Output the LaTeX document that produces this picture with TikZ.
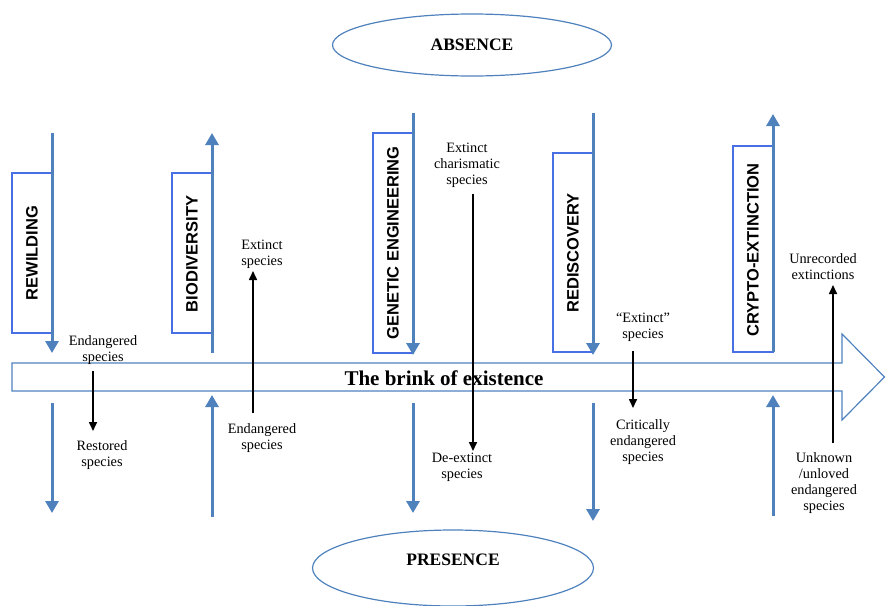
\documentclass[tikz,border=0pt]{standalone}
\usepackage{fontspec}
\setmainfont{Liberation Serif}
\newfontfamily\boxfont{Liberation Sans}
\usetikzlibrary{arrows.meta,shapes.geometric}
\definecolor{arrblue}{RGB}{79,129,189}
\definecolor{boxblue}{RGB}{72,112,228}
\begin{document}
\begin{tikzpicture}[x=1pt,y=-1pt,
 bluearr/.style={draw=arrblue,line width=3pt,-{Triangle[width=13pt,length=12pt]}},
 blackarr/.style={draw=black,line width=1.6pt,-{Triangle[width=8pt,length=9pt]}},
 tagbox/.style={draw=boxblue,line width=1.2pt},
 taglabel/.style={rotate=90,inner sep=0pt,font=\boxfont\bfseries\fontsize{16.5}{18}\selectfont},
 lbl/.style={align=center,inner sep=0pt,font=\fontsize{14.3}{16}\selectfont},
 oval/.style={ellipse,draw=arrblue,line width=1.2pt,inner sep=0pt},
 ovaltext/.style={inner sep=0pt,font=\bfseries\fontsize{17.5}{20}\selectfont}]
\useasboundingbox (0,0) rectangle (886,605);

% ellipses
\node[oval,minimum width=279pt,minimum height=62pt] (absence) at (472,45) {};
\node[ovaltext] (absencet) at (472,45) {ABSENCE};
\node[oval,minimum width=281pt,minimum height=76pt] (presence) at (453,568) {};
\node[ovaltext] (presencet) at (453,560) {PRESENCE};

% big arrow
\draw[arrblue,line width=1.2pt] (12,363) -- (842,363) -- (842,334) -- (884.5,377) -- (842,420) -- (842,391) -- (12,391) -- cycle;
\node[inner sep=0pt,font=\bfseries\fontsize{21}{24}\selectfont] (brink) at (444,378) {The brink of existence};

% tag boxes
\draw[tagbox] (12,173) rectangle (52,333);
\draw[tagbox] (172,173) rectangle (212,333);
\draw[tagbox] (373,133) rectangle (413,353);
\draw[tagbox] (553,153) rectangle (593,352);
\draw[tagbox] (733,146) rectangle (773,352);
\node[taglabel] (rew) at (32,253) {REWILDING};
\node[taglabel] (bio) at (192,254) {BIODIVERSITY};
\node[taglabel] (gen) at (393,243) {GENETIC ENGINEERING};
\node[taglabel] (red) at (573,253) {REDISCOVERY};
\node[taglabel] (cry) at (753,250) {CRYPTO-EXTINCTION};

% blue arrow coordinates
\coordinate (a1s) at (52,133);  \coordinate (a1e) at (52,353);
\coordinate (b1s) at (52,403);  \coordinate (b1e) at (52,513);
\coordinate (a2s) at (212,353); \coordinate (a2e) at (212,133);
\coordinate (b2s) at (212,517); \coordinate (b2e) at (212,395);
\coordinate (a3s) at (413,113); \coordinate (a3e) at (413,355);
\coordinate (b3s) at (413,403); \coordinate (b3e) at (413,513);
\coordinate (a4s) at (593,113); \coordinate (a4e) at (593,355);
\coordinate (b4s) at (593,403); \coordinate (b4e) at (593,521);
\coordinate (a5s) at (773,352); \coordinate (a5e) at (773,114);
\coordinate (b5s) at (773,516); \coordinate (b5e) at (773,395);
\foreach \p in {a1,b1,a2,b2,a3,b3,a4,b4,a5,b5}
  \draw[bluearr] (\p s) -- (\p e);

% labels
\node[lbl] (end1) at (103,350) {Endangered\\species};
\node[lbl] (rest) at (102,455) {Restored\\species};
\node[lbl] (ext1) at (262,254) {Extinct\\species};
\node[lbl] (end2) at (262,438) {Endangered\\species};
\node[lbl] (extc) at (467,165) {Extinct\\charismatic\\species};
\node[lbl] (deext) at (462,467) {De-extinct\\species};
\node[lbl] (ext2) at (643,327) {``Extinct''\\species};
\node[lbl] (crit) at (643,442) {Critically\\endangered\\species};
\node[lbl] (unrec) at (823,267) {Unrecorded\\extinctions};
\node[lbl] (unk) at (824,483) {Unknown\\/unloved\\endangered\\species};

% black arrows
\coordinate (k1s) at (93,371);  \coordinate (k1e) at (93,431);
\coordinate (k2s) at (253,413); \coordinate (k2e) at (253,271);
\coordinate (k3s) at (473,194); \coordinate (k3e) at (473,451);
\coordinate (k4s) at (633,351); \coordinate (k4e) at (633,408);
\coordinate (k5s) at (833,443); \coordinate (k5e) at (833,285);
\foreach \p in {k1,k2,k3,k4,k5}
  \draw[blackarr] (\p s) -- (\p e);
\end{tikzpicture}
\end{document}
